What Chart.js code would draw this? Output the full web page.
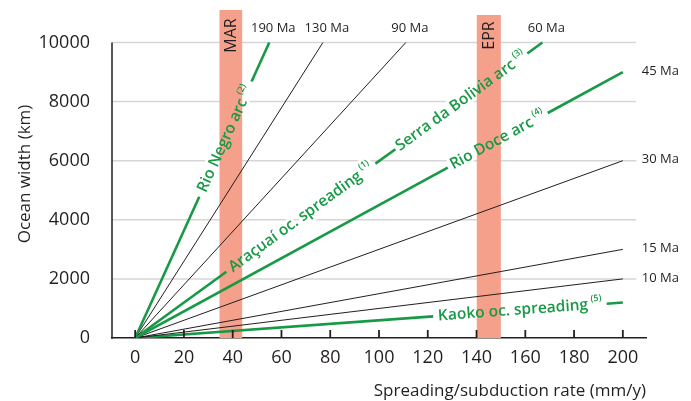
<!DOCTYPE html>
<html>
<head>
<meta charset="utf-8">
<title>Ocean width vs spreading rate</title>
<script src="https://cdn.jsdelivr.net/npm/chart.js@4.4.1/dist/chart.umd.min.js"></script>
<style>
    html, body { margin: 0; padding: 0; background: #fff; }
</style>
</head>
<body>
<canvas id="oceanChart" width="691" height="401"></canvas>
<script>
// width (km) = rate (mm/y) x age (Ma); each isochron is a line from the origin
const xTicks = [0, 20, 40, 60, 80, 100, 120, 140, 160, 180, 200];
const yTicks = [0, 2000, 4000, 6000, 8000, 10000];

// isochrons: label and end point (rate, width)
const isoAges = ['190 Ma', '130 Ma', '90 Ma', '60 Ma', '45 Ma', '30 Ma', '15 Ma', '10 Ma', ''];
const isoEndRate = [55, 77, 111, 167, 200, 200, 200, 200, 200];
const isoEndWidth = [10000, 10000, 10000, 10000, 9000, 6000, 3000, 2000, 1200];

// mid-ocean ridges: rate interval and bar height
const ridgeNames = ['MAR', 'EPR'];
const ridgeFrom = [34.5, 140];
const ridgeTo = [44, 150];
const ridgeTop = [11100, 10930];

// orogen labels sitting on the green isochrons
const arcText = ['Rio Negro arc', 'Araçuaí oc. spreading', 'Serra da Bolivia arc', 'Rio Doce arc', 'Kaoko oc. spreading'];
const arcNote = ['(2)', '(1)', '(3)', '(4)', '(5)'];

// which isochron each label sits on, and where the line is broken for it (fraction of length)
const arcLine = [0, 3, 3, 4, 8];
const arcGap = [[0.478, 0.868], [0.224, 0.590], [0.639, 0.963], [0.641, 0.846], [0.611, 0.967]];

const GREEN = '#179945';
const INK = '#231f20';
const BAND = '#f5a08b';
const GRID = '#d6d6d6';
const GRID_END = 205.5; // horizontal rules stop a little short of the axis end
const FONT = '"Open Sans", "Noto Sans", sans-serif';

function along(i, t) {
    return { x: isoEndRate[i] * t, y: isoEndWidth[i] * t };
}

const ridgeSets = ridgeNames.map((name, i) => ({
    label: name,
    data: [{ x: ridgeFrom[i], y: ridgeTop[i] }, { x: ridgeTo[i], y: ridgeTop[i] }],
    fill: 'origin',
    backgroundColor: BAND,
    borderWidth: 0,
    pointRadius: 0,
    order: 10
}));

const isoSets = isoAges.map((age, i) => {
    const gaps = arcLine.map((l, k) => l === i ? arcGap[k] : null).filter(g => g).sort((a, b) => a[0] - b[0]);
    const green = gaps.length > 0;
    const pts = [{ x: 0, y: 0 }];
    gaps.forEach(g => { pts.push(along(i, g[0])); pts.push(along(i, g[1])); });
    pts.push({ x: isoEndRate[i], y: isoEndWidth[i] });
    const color = green ? GREEN : INK;
    return {
        label: age,
        data: pts,
        borderColor: color,
        borderWidth: green ? 2.6 : 1,
        pointRadius: 0,
        tension: 0,
        fill: false,
        order: 1,
        segment: {
            borderColor: ctx => ctx.p0DataIndex % 2 ? 'rgba(0,0,0,0)' : color
        }
    };
});

function arcPlacement(chart, k) {
    const xs = chart.scales.x, ys = chart.scales.y;
    const a = along(arcLine[k], arcGap[k][0]);
    const b = along(arcLine[k], arcGap[k][1]);
    const x0 = xs.getPixelForValue(a.x), y0 = ys.getPixelForValue(a.y);
    const x1 = xs.getPixelForValue(b.x), y1 = ys.getPixelForValue(b.y);
    return { cx: (x0 + x1) / 2, cy: (y0 + y1) / 2, angle: Math.atan2(y1 - y0, x1 - x0) };
}

function drawArcLabel(ctx, chart, k, halo) {
    const p = arcPlacement(chart, k);
    ctx.save();
    ctx.translate(p.cx, p.cy);
    ctx.rotate(p.angle);
    ctx.textBaseline = 'middle';
    ctx.textAlign = 'left';
    ctx.font = '600 15.5px ' + FONT;
    const w1 = ctx.measureText(arcText[k]).width;
    ctx.font = '600 9px ' + FONT;
    const w2 = ctx.measureText(arcNote[k]).width;
    const left = -(w1 + 3 + w2) / 2;
    if (halo) {
        ctx.strokeStyle = '#fff';
        ctx.lineWidth = 6;
        ctx.lineJoin = 'round';
        ctx.font = '600 15.5px ' + FONT;
        ctx.strokeText(arcText[k], left, 0);
        ctx.font = '600 9px ' + FONT;
        ctx.strokeText(arcNote[k], left + w1 + 3, -6);
    } else {
        ctx.fillStyle = GREEN;
        ctx.font = '600 15.5px ' + FONT;
        ctx.fillText(arcText[k], left, 0);
        ctx.font = '600 9px ' + FONT;
        ctx.fillText(arcNote[k], left + w1 + 3, -6);
    }
    ctx.restore();
}

const fanDecor = {
    id: 'fanDecor',
    beforeDatasetsDraw(chart) {
        const ctx = chart.ctx;
        const xs = chart.scales.x, ys = chart.scales.y;
        const area = chart.chartArea;
        const xEnd = xs.getPixelForValue(GRID_END);

        // horizontal rules
        ctx.save();
        ctx.strokeStyle = GRID;
        ctx.lineWidth = 1.5;
        yTicks.forEach(v => {
            if (v === 0) return;
            const py = ys.getPixelForValue(v);
            ctx.beginPath();
            ctx.moveTo(area.left, py);
            ctx.lineTo(xEnd, py);
            ctx.stroke();
        });
        ctx.restore();

        arcText.forEach((t, k) => drawArcLabel(ctx, chart, k, true));
    },
    afterDatasetsDraw(chart) {
        const ctx = chart.ctx;
        const xs = chart.scales.x, ys = chart.scales.y;
        const area = chart.chartArea;
        const yTop = ys.getPixelForValue(yTicks[yTicks.length - 1]);
        const yZero = ys.getPixelForValue(0);

        // y axis line only up to the last tick
        ctx.save();
        ctx.strokeStyle = INK;
        ctx.lineWidth = 1.5;
        ctx.beginPath();
        ctx.moveTo(area.left, yZero + 0.75);
        ctx.lineTo(area.left, yTop);
        ctx.stroke();

        // x tick marks point up into the plot
        ctx.lineWidth = 1.8;
        xTicks.forEach(v => {
            const px = xs.getPixelForValue(v);
            ctx.beginPath();
            ctx.moveTo(px, yZero);
            ctx.lineTo(px, yZero - 8);
            ctx.stroke();
        });

        arcText.forEach((t, k) => drawArcLabel(ctx, chart, k, false));

        // isochron ages
        ctx.fillStyle = INK;
        ctx.font = '13px ' + FONT;
        ctx.textBaseline = 'middle';
        isoAges.forEach((age, i) => {
            if (!age) return;
            const ex = xs.getPixelForValue(isoEndRate[i]);
            const ey = ys.getPixelForValue(isoEndWidth[i]);
            if (isoEndWidth[i] >= yTicks[yTicks.length - 1]) {
                ctx.textAlign = 'center';
                ctx.fillText(age, ex + 4, yTop - 14);
            } else {
                ctx.textAlign = 'left';
                ctx.fillText(age, ex + 19, ey - 1);
            }
        });

        // ridge names inside the bands
        ctx.font = '16px ' + FONT;
        ctx.textAlign = 'center';
        ridgeNames.forEach((name, i) => {
            const cx = (xs.getPixelForValue(ridgeFrom[i]) + xs.getPixelForValue(ridgeTo[i])) / 2;
            ctx.save();
            ctx.translate(cx + 1, yTop - 7);
            ctx.rotate(-Math.PI / 2);
            ctx.fillText(name, 0, 0);
            ctx.restore();
        });
        ctx.restore();
    }
};

function noEdgePadding(s) {
    s.paddingTop = 0;
    s.paddingBottom = 0;
    s.paddingLeft = 0;
    s.paddingRight = 0;
}

const ctx = document.getElementById('oceanChart').getContext('2d');
new Chart(ctx, {
    type: 'line',
    data: { datasets: [...ridgeSets, ...isoSets] },
    options: {
        responsive: false,
        animation: false,
        devicePixelRatio: 1,
        layout: { padding: { top: 10, right: 45, bottom: 0, left: 0 } },
        plugins: {
            legend: { display: false },
            tooltip: { enabled: false }
        },
        scales: {
            x: {
                type: 'linear',
                min: -9.5,
                max: 209.5,
                afterBuildTicks: s => { s.ticks = xTicks.map(v => ({ value: v })); },
                afterFit: s => { s.height = 63; noEdgePadding(s); },
                grid: { display: false, drawTicks: false },
                border: { display: true, color: INK, width: 1.5 },
                ticks: { color: INK, font: { family: FONT, size: 18 }, padding: 9, maxRotation: 0 },
                title: {
                    display: true,
                    text: 'Spreading/subduction rate (mm/y)',
                    align: 'end',
                    color: INK,
                    font: { family: FONT, size: 17 },
                    padding: { top: 0, bottom: 0 }
                }
            },
            y: {
                type: 'linear',
                min: 0,
                max: 11100,
                afterBuildTicks: s => { s.ticks = yTicks.map(v => ({ value: v })); },
                afterFit: s => { s.width = 112; noEdgePadding(s); },
                grid: { display: false, drawTicks: false },
                border: { display: false },
                ticks: {
                    color: INK,
                    font: { family: FONT, size: 18 },
                    padding: 22,
                    callback: v => String(v)
                },
                title: {
                    display: true,
                    text: 'Ocean width (km)',
                    color: INK,
                    font: { family: FONT, size: 17 },
                    padding: { top: 15, bottom: 0 }
                }
            }
        }
    },
    plugins: [fanDecor]
});
</script>
</body>
</html>
